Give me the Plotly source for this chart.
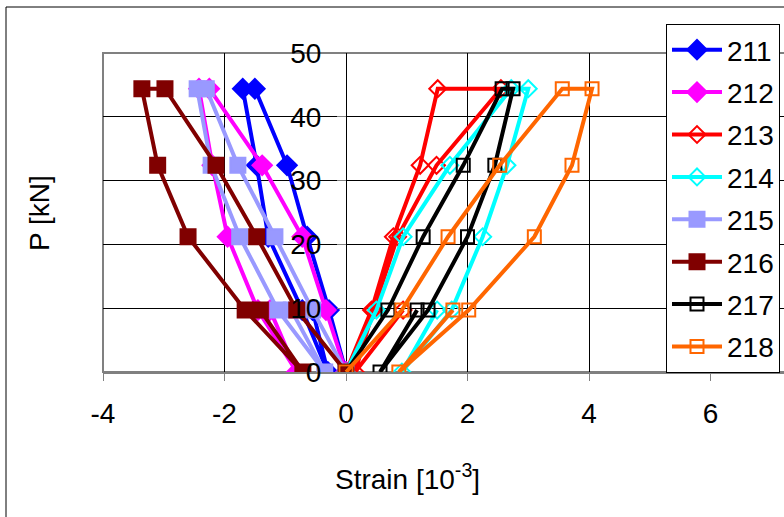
import plotly.graph_objects as go

loads = [0, 9.7, 21.2, 32.4, 44.4, 44.4, 32.4, 21.2, 9.7, 0, 9.7]

names = ["211", "212", "213", "214", "215", "216", "217", "218"]
s211 = [0, -0.28, -0.64, -0.97, -1.50, -1.70, -1.47, -1.28, -0.72, -0.30, -0.55]
s212 = [0, -0.33, -0.72, -1.38, -2.25, -2.42, -2.20, -1.95, -1.45, -0.81, -1.25]
s213 = [0, 0.42, 0.78, 1.22, 1.51, 2.55, 1.49, 0.85, 0.45, 0.15, 0.94]
s214 = [0, 0.50, 0.94, 1.71, 2.72, 3.00, 2.65, 2.25, 1.74, 0.92, 1.50]
s215 = [0, -0.55, -1.17, -1.78, -2.30, -2.45, -2.22, -1.75, -1.12, -0.35, -0.90]
s216 = [0, -0.81, -1.47, -2.14, -2.98, -3.36, -3.10, -2.60, -1.66, -0.71, -1.41]
s217 = [0, 0.69, 1.27, 1.93, 2.57, 2.75, 2.45, 2.00, 1.35, 0.56, 1.17]
s218 = [0, 0.92, 1.68, 2.53, 3.56, 4.05, 3.72, 3.10, 2.02, 0.87, 1.76]
series = [s211, s212, s213, s214, s215, s216, s217, s218]

colors = ["#0000FF", "#FF00FF", "#FF0000", "#00FFFF", "#9999FF", "#800000", "#000000", "#FF6600"]
symbols = ["diamond", "diamond", "diamond-open", "diamond-open", "square", "square", "square-open", "square-open"]
sizes = [15, 15, 13, 13, 15, 15, 13, 13]

x_ticks = [-4, -2, 0, 2, 4, 6]
y_ticks = [0, 10, 20, 30, 40, 50]

FONT = "Liberation Sans, Arial, sans-serif"

fig = go.Figure()
for n, s, c, sym, sz in zip(names, series, colors, symbols, sizes):
    fig.add_trace(go.Scatter(
        x=s, y=loads, name=n, mode="lines+markers", legendgroup=n,
        line=dict(color=c, width=4),
        marker=dict(color=c, symbol=sym, size=sz, line=dict(color=c, width=2)),
    ))

W, H = 784, 517
L, T, B = 103, 53, 145
plot_w = W - L
plot_h = 372 - 53
px_per_unit = (346 - 103) / 4.0
x_max = -4 + plot_w / px_per_unit
y_pos = (346 - L) / plot_w

fig.update_layout(
    width=W, height=H,
    margin=dict(l=L, r=0, t=T, b=B),
    paper_bgcolor="white", plot_bgcolor="white",
    font=dict(family=FONT, size=28, color="black"),
    showlegend=True,
    legend=dict(
        x=(666 - L) / plot_w, y=(372 - 24) / plot_h, xanchor="left", yanchor="top",
        bgcolor="white", bordercolor="black", borderwidth=1,
        font=dict(size=28, family=FONT), tracegroupgap=3,
        itemwidth=50, maxheight=480,
    ),
    xaxis=dict(
        range=[-4, x_max], tickvals=x_ticks, ticktext=[str(v) for v in x_ticks],
        showgrid=True, gridcolor="black", gridwidth=1, zeroline=False,
        showline=True, linecolor="#808080", linewidth=2,
        ticks="outside", ticklen=7, tickcolor="#808080", tickwidth=1,
        tickfont=dict(size=28), ticklabelstandoff=8,
    ),
    yaxis=dict(
        range=[0, 50], tickvals=y_ticks, ticktext=[str(v) for v in y_ticks],
        anchor="free", position=y_pos,
        showgrid=True, gridcolor="black", gridwidth=1, zeroline=False,
        showline=False,
        ticks="outside", ticklen=9, tickcolor="#808080", tickwidth=1,
        tickfont=dict(size=28), ticklabelstandoff=10,
    ),
    shapes=[
        dict(type="rect", xref="paper", yref="paper", x0=0, x1=1.2, y0=0, y1=1,
             line=dict(color="#808080", width=2), layer="below"),
        dict(type="rect", xref="paper", yref="paper",
             x0=(6 - L) / plot_w, x1=1.3, y0=(372 - 7) / plot_h, y1=-1,
             line=dict(color="black", width=1), layer="below"),
    ],
    annotations=[
        dict(text="Strain [10<sup>-3</sup>]", xref="paper", yref="paper",
             x=(407 - L) / plot_w, y=-(477 - 372) / plot_h, xanchor="center", yanchor="middle",
             showarrow=False, font=dict(size=28, family=FONT)),
        dict(text="P [kN]", xref="paper", yref="paper", textangle=-90,
             x=(40 - L) / plot_w, y=(372 - 213) / plot_h, xanchor="center", yanchor="middle",
             showarrow=False, font=dict(size=28, family=FONT)),
    ],
)

fig.write_html("out.html")
